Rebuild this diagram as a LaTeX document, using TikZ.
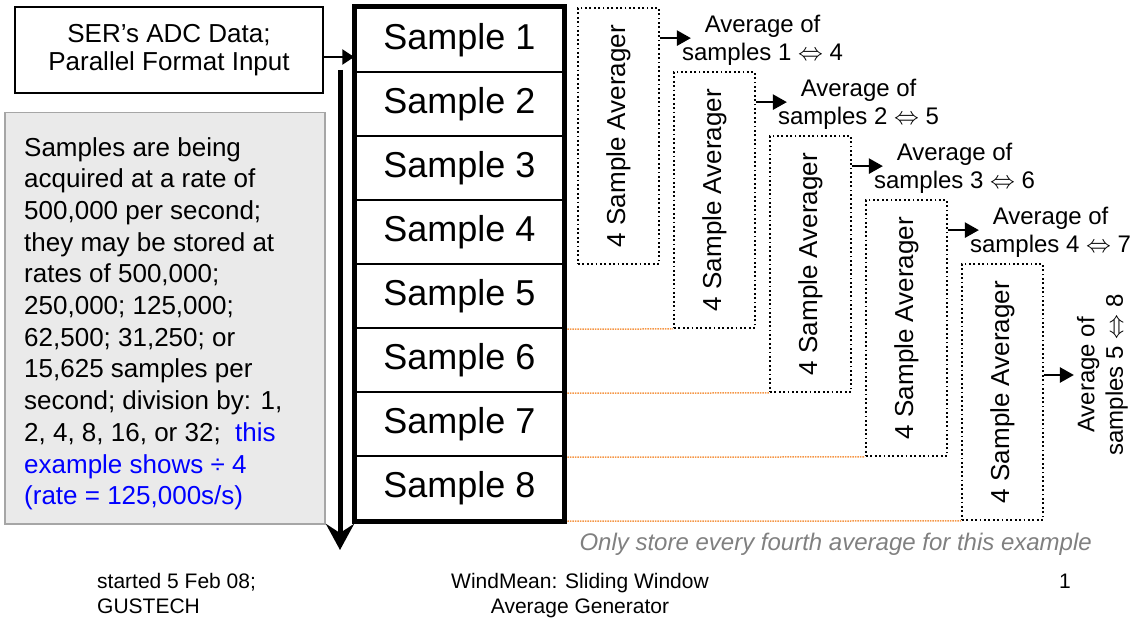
\documentclass[tikz,border=0pt]{standalone}
\usepackage{fontspec}
\setmainfont{Liberation Sans}
\usepackage{graphicx}
\usetikzlibrary{arrows.meta,positioning,calc}

\definecolor{notegray}{RGB}{234,234,234}
\definecolor{noteedge}{RGB}{166,166,166}
\definecolor{guideorange}{RGB}{245,150,70}
\definecolor{capgray}{RGB}{128,128,128}
\newcommand{\dblarrow}{$\Leftrightarrow$}

\tikzset{
  inbox/.style={draw, line width=2pt, minimum width=308pt, minimum height=86pt, align=center, font=\fontsize{26}{28}\selectfont},
  samplebox/.style={draw, line width=2.5pt, minimum width=208pt, minimum height=64pt, inner sep=0pt, font=\fontsize{36}{40}\selectfont},
  avgbox/.style={draw, line width=1.8pt, dash pattern=on 1.8pt off 2.6pt, minimum width=81pt, minimum height=256pt, inner sep=0pt, font=\fontsize{26}{28}\selectfont},
  avglabel/.style={align=center, inner sep=0pt, font=\fontsize{24}{28.5}\selectfont},
  guide/.style={guideorange, line width=1.5pt, dash pattern=on 1.5pt off 1pt},
  arr/.style={line width=2.5pt, -{Triangle[length=14pt,width=15pt]}},
}

\begin{document}
\begin{tikzpicture}[x=1pt,y=-1pt]
\useasboundingbox (0,0) rectangle (1143,620);

\node[inbox] (ser) at (169,50) {SER’s ADC Data;\\Parallel Format Input};

\node[draw=noteedge, fill=notegray, line width=1.5pt, minimum width=320pt, minimum height=411pt, anchor=north west, inner sep=0pt] (note) at (4,112) {};
\node[anchor=north west, inner sep=0pt, align=left, font=\fontsize{26}{31.7}\selectfont] (notetext) at ([xshift=20pt,yshift=-25pt]note.north west)
  {Samples are being\\acquired at a rate of\\500,000 per second;\\they may be stored at\\rates of 500,000;\\250,000; 125,000;\\62,500; 31,250; or\\15,625 samples per\\second; division by: 1,\\2, 4, 8, 16, or 32;~ \textcolor{blue}{this}\\\textcolor{blue}{example shows ÷ 4}\\\textcolor{blue}{(rate = 125,000s/s)}};

\foreach \i in {1,...,8}
  \node[samplebox] (s\i) at (459.5,{40+64*(\i-1)}) {Sample \i};

\foreach \i in {1,...,5}
  \node[avgbox] (avg\i) at ({618.5+96*(\i-1)},{136+64*(\i-1)}) {\rotatebox{90}{4 Sample Averager}};

\foreach \i/\j in {2/5,3/6,4/7,5/8}
  \draw[guide] (s\j.south east) -- (avg\i.south west);

\draw[line width=5pt] (s1.north west) rectangle (s8.south east);

\draw[line width=2.5pt, -{Triangle[length=12pt,width=15pt]}] ([yshift=-7pt]ser.east) -- ([yshift=-7pt]ser.east -| s1.west);

\coordinate (flowtop) at (340,70);
\coordinate (flowend) at (340,550);
\draw[line width=5pt, -{Stealth[length=26pt,width=28pt,inset=9pt]}] (flowtop) -- (flowend);

\foreach \i/\j in {1/4,2/5,3/6,4/7}{
  \coordinate (tip\i) at ([xshift=31pt,yshift=-31pt]avg\i.north east);
  \draw[arr] (avg\i.east |- tip\i) -- (tip\i);
  \node[avglabel, anchor=west] (res\i) at ([xshift=-9pt,yshift=-2pt]tip\i) {Average of\\samples \i\ \dblarrow\ \j};
}

\coordinate (tip5) at ([xshift=30pt,yshift=17pt]avg5.east);
\draw[arr] (avg5.east |- tip5) -- (tip5);
\node[avglabel, rotate=90, anchor=north, inner sep=3pt] (res5) at (tip5) {Average of\\samples 5 \dblarrow\ 8};

\node[anchor=base east, inner sep=0pt, text=capgray, font=\fontsize{24}{26}\selectfont\itshape] (caption) at (1092,550) {Only store every fourth average for this example};

\node[anchor=north west, inner sep=0pt, align=left, font=\fontsize{21}{25}\selectfont] (started) at (97,573) {started 5 Feb 08;\\GUSTECH};
\node[anchor=north, inner sep=0pt, align=center, font=\fontsize{21}{25}\selectfont] (title) at (580,573) {WindMean: Sliding Window\\Average Generator};
\node[anchor=base east, inner sep=0pt, font=\fontsize{21}{25}\selectfont] (page) at (1071,588) {1};

\end{tikzpicture}
\end{document}
